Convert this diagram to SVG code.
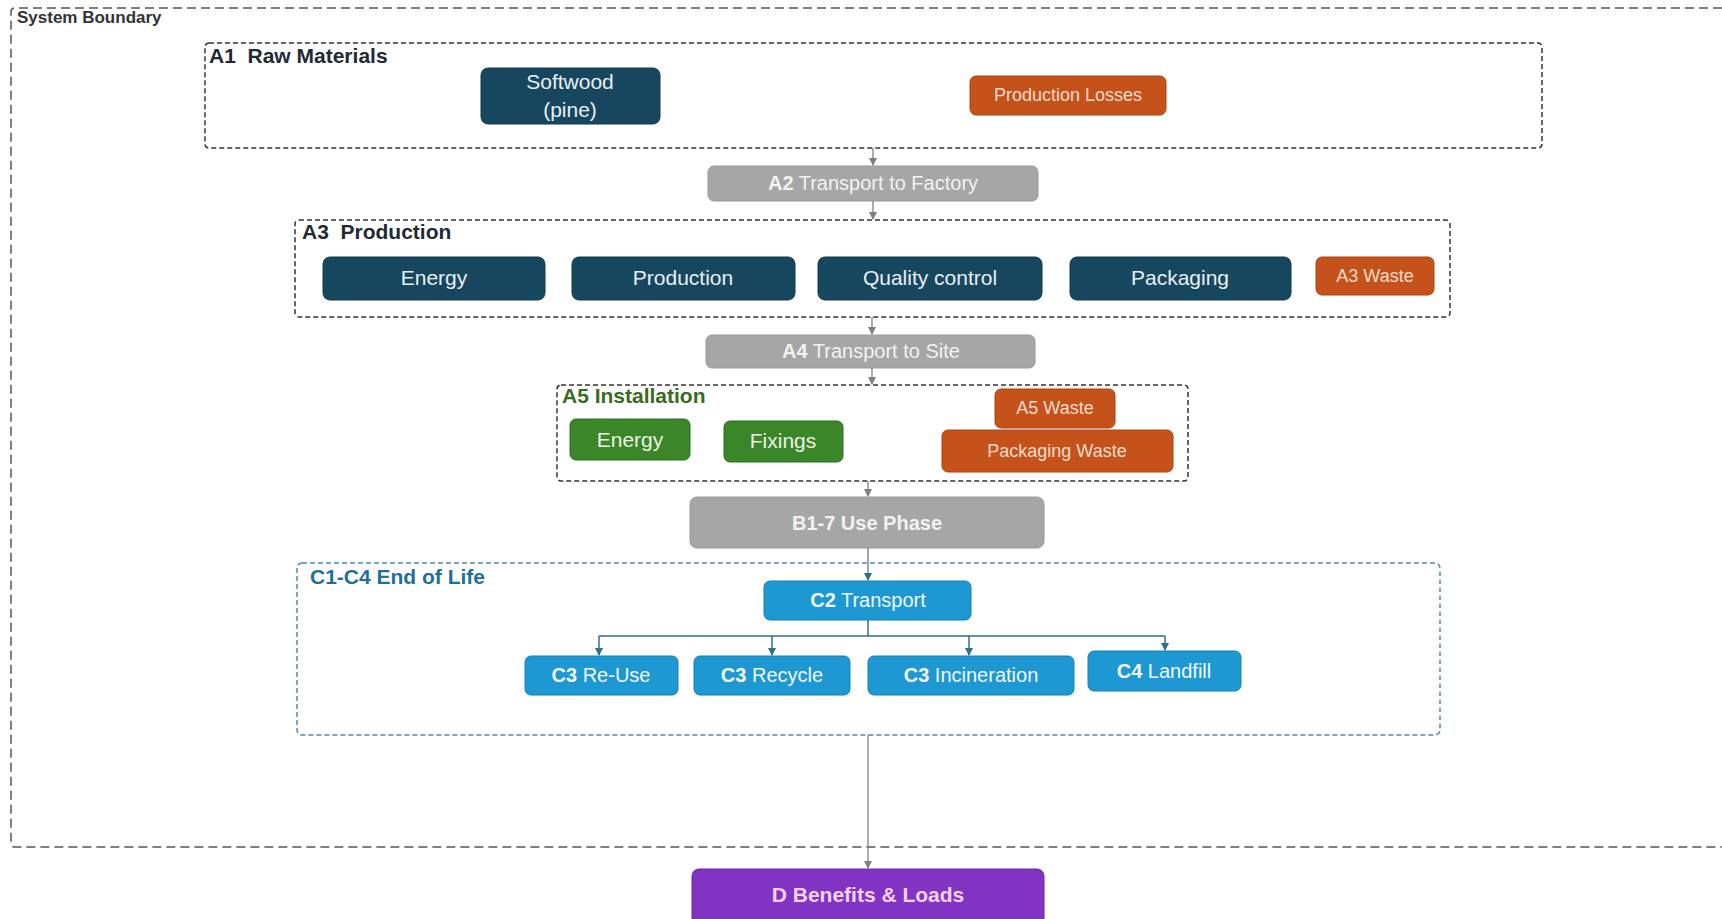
<svg xmlns="http://www.w3.org/2000/svg" width="1722" height="919" viewBox="0 0 1722 919">
<style>
text{font-family:"Liberation Sans",Arial,sans-serif;}
.grp{fill:none;stroke:#333;stroke-width:1.5;stroke-dasharray:5 3;}
.sb{fill:none;stroke:#555;stroke-width:1.5;stroke-dasharray:9 5;}
.cgrp{fill:none;stroke:#4d8bad;stroke-width:1.5;stroke-dasharray:5 3;}
.navy{fill:#17475f;stroke:#133a4e;stroke-width:1;}
.org{fill:#c6521b;stroke:#a84414;stroke-width:1;}
.gry{fill:#a6a6a6;stroke:#999;stroke-width:1;}
.grn{fill:#3b8628;stroke:#2f6e20;stroke-width:1;}
.blu{fill:#1d98d2;stroke:#1780b2;stroke-width:1;}
.pur{fill:#8134c4;stroke:#6a28a6;stroke-width:1;}
.tn{fill:#e8eff3;font-size:21px;text-anchor:middle;}
.to{fill:#f6dccb;font-size:18px;text-anchor:middle;}
.tg{fill:#f2f2f2;font-size:20px;text-anchor:middle;}
.tgr{fill:#e9f2e3;font-size:21px;text-anchor:middle;}
.tb{fill:#f2f8fc;font-size:20px;text-anchor:middle;}
.lbl{font-weight:bold;font-size:21px;}
.ga{stroke:#808080;stroke-width:1.3;fill:none;}
.ba{stroke:#2f6f8f;stroke-width:1.5;fill:none;}
</style>
<defs>
<marker id="ag" markerWidth="8" markerHeight="8" refX="7" refY="4" orient="auto" markerUnits="userSpaceOnUse"><path d="M0,0 L8,4 L0,8 z" fill="#808080"/></marker>
<marker id="ab" markerWidth="8" markerHeight="8" refX="7" refY="4" orient="auto" markerUnits="userSpaceOnUse"><path d="M0,0 L8,4 L0,8 z" fill="#2f6f8f"/></marker>
</defs>
<rect width="1722" height="919" fill="#ffffff"/>

<g id="system-boundary">
<path class="sb" d="M1722,8 H15 Q11,8 11,12 V843 Q11,847 15,847 H1722"/>
<text x="17" y="23" font-size="17" font-weight="bold" fill="#333">System Boundary</text>
</g>

<g id="A1">
<rect class="grp" x="205" y="43" width="1337" height="105" rx="4"/>
<text class="lbl" x="209" y="63" fill="#1f2a33">A1&#160;&#160;Raw Materials</text>
</g>
<g id="softwood">
<rect class="navy" x="481" y="68" width="179" height="56" rx="7"/>
<text class="tn" x="570" y="89">Softwood</text>
<text class="tn" x="570" y="117">(pine)</text>
</g>
<g id="production-losses">
<rect class="org" x="970" y="76" width="196" height="39" rx="6"/>
<text class="to" x="1068" y="101">Production Losses</text>
</g>

<g id="A2">
<rect class="gry" x="708" y="166" width="330" height="35" rx="6"/>
<text class="tg" x="873" y="190"><tspan font-weight="bold">A2</tspan> Transport to Factory</text>
</g>

<g id="A3">
<rect class="grp" x="295" y="220" width="1155" height="97" rx="4"/>
<text class="lbl" x="302" y="239" fill="#1f2a33">A3&#160;&#160;Production</text>
</g>
<g id="a3-energy"><rect class="navy" x="323" y="257" width="222" height="43" rx="7"/><text class="tn" x="434" y="285">Energy</text></g>
<g id="a3-production"><rect class="navy" x="572" y="257" width="223" height="43" rx="7"/><text class="tn" x="683" y="285">Production</text></g>
<g id="a3-quality"><rect class="navy" x="818" y="257" width="224" height="43" rx="7"/><text class="tn" x="930" y="285">Quality control</text></g>
<g id="a3-packaging"><rect class="navy" x="1070" y="257" width="221" height="43" rx="7"/><text class="tn" x="1180" y="285">Packaging</text></g>
<g id="a3-waste"><rect class="org" x="1316" y="257" width="118" height="38" rx="6"/><text class="to" x="1375" y="282">A3 Waste</text></g>

<g id="A4">
<rect class="gry" x="706" y="335" width="329" height="33" rx="6"/>
<text class="tg" x="871" y="358"><tspan font-weight="bold">A4</tspan> Transport to Site</text>
</g>

<g id="A5">
<rect class="grp" x="557" y="385" width="631" height="96" rx="4"/>
<text class="lbl" x="562" y="403" fill="#3a6b22">A5 Installation</text>
</g>
<g id="a5-energy"><rect class="grn" x="570" y="419" width="120" height="41" rx="6"/><text class="tgr" x="630" y="447">Energy</text></g>
<g id="a5-fixings"><rect class="grn" x="724" y="421" width="119" height="41" rx="6"/><text class="tgr" x="783" y="448">Fixings</text></g>
<g id="a5-waste"><rect class="org" x="995" y="389" width="120" height="39" rx="6"/><text class="to" x="1055" y="414">A5 Waste</text></g>
<g id="packaging-waste"><rect class="org" x="942" y="430" width="231" height="42" rx="6"/><text class="to" x="1057" y="457">Packaging Waste</text></g>

<g id="B1-7">
<rect class="gry" x="690" y="497" width="354" height="51" rx="7"/>
<text class="tg" x="867" y="530" font-weight="bold">B1-7 Use Phase</text>
</g>

<g id="C1-C4">
<rect class="cgrp" x="297" y="563" width="1143" height="172" rx="5"/>
<text class="lbl" x="310" y="584" fill="#1f6f99" font-size="20">C1-C4 End of Life</text>
</g>
<g id="c2"><rect class="blu" x="764" y="581" width="207" height="39" rx="6"/><text class="tb" x="868" y="607"><tspan font-weight="bold">C2</tspan> Transport</text></g>
<g id="c3-reuse"><rect class="blu" x="525" y="656" width="153" height="39" rx="6"/><text class="tb" x="601" y="682"><tspan font-weight="bold">C3</tspan> Re-Use</text></g>
<g id="c3-recycle"><rect class="blu" x="694" y="656" width="156" height="39" rx="6"/><text class="tb" x="772" y="682"><tspan font-weight="bold">C3</tspan> Recycle</text></g>
<g id="c3-incineration"><rect class="blu" x="868" y="656" width="206" height="39" rx="6"/><text class="tb" x="971" y="682"><tspan font-weight="bold">C3</tspan> Incineration</text></g>
<g id="c4-landfill"><rect class="blu" x="1088" y="651" width="153" height="40" rx="6"/><text class="tb" x="1164" y="678"><tspan font-weight="bold">C4</tspan> Landfill</text></g>

<g id="D">
<rect class="pur" x="692" y="869" width="352" height="60" rx="7"/>
<text x="868" y="902" font-size="21" font-weight="bold" fill="#f3d2f3" text-anchor="middle">D Benefits &amp; Loads</text>
</g>

<g id="connectors">
<line class="ga" x1="873" y1="148" x2="873" y2="165" marker-end="url(#ag)"/>
<line class="ga" x1="873" y1="201" x2="873" y2="219" marker-end="url(#ag)"/>
<line class="ga" x1="872" y1="317" x2="872" y2="334" marker-end="url(#ag)"/>
<line class="ga" x1="872" y1="368" x2="872" y2="384" marker-end="url(#ag)"/>
<line class="ga" x1="868" y1="481" x2="868" y2="496" marker-end="url(#ag)"/>
<line class="ga" x1="868" y1="548" x2="868" y2="580" marker-end="url(#ab)" style="stroke:#5a7f92"/>
<line class="ba" x1="868" y1="620" x2="868" y2="636"/>
<polyline class="ba" points="599,636 1165,636"/>
<line class="ba" x1="599" y1="636" x2="599" y2="655" marker-end="url(#ab)"/>
<line class="ba" x1="772" y1="636" x2="772" y2="655" marker-end="url(#ab)"/>
<line class="ba" x1="969" y1="636" x2="969" y2="655" marker-end="url(#ab)"/>
<line class="ba" x1="1165" y1="636" x2="1165" y2="650" marker-end="url(#ab)"/>
<line class="ga" x1="868" y1="735" x2="868" y2="868" marker-end="url(#ag)"/>
</g>
</svg>
